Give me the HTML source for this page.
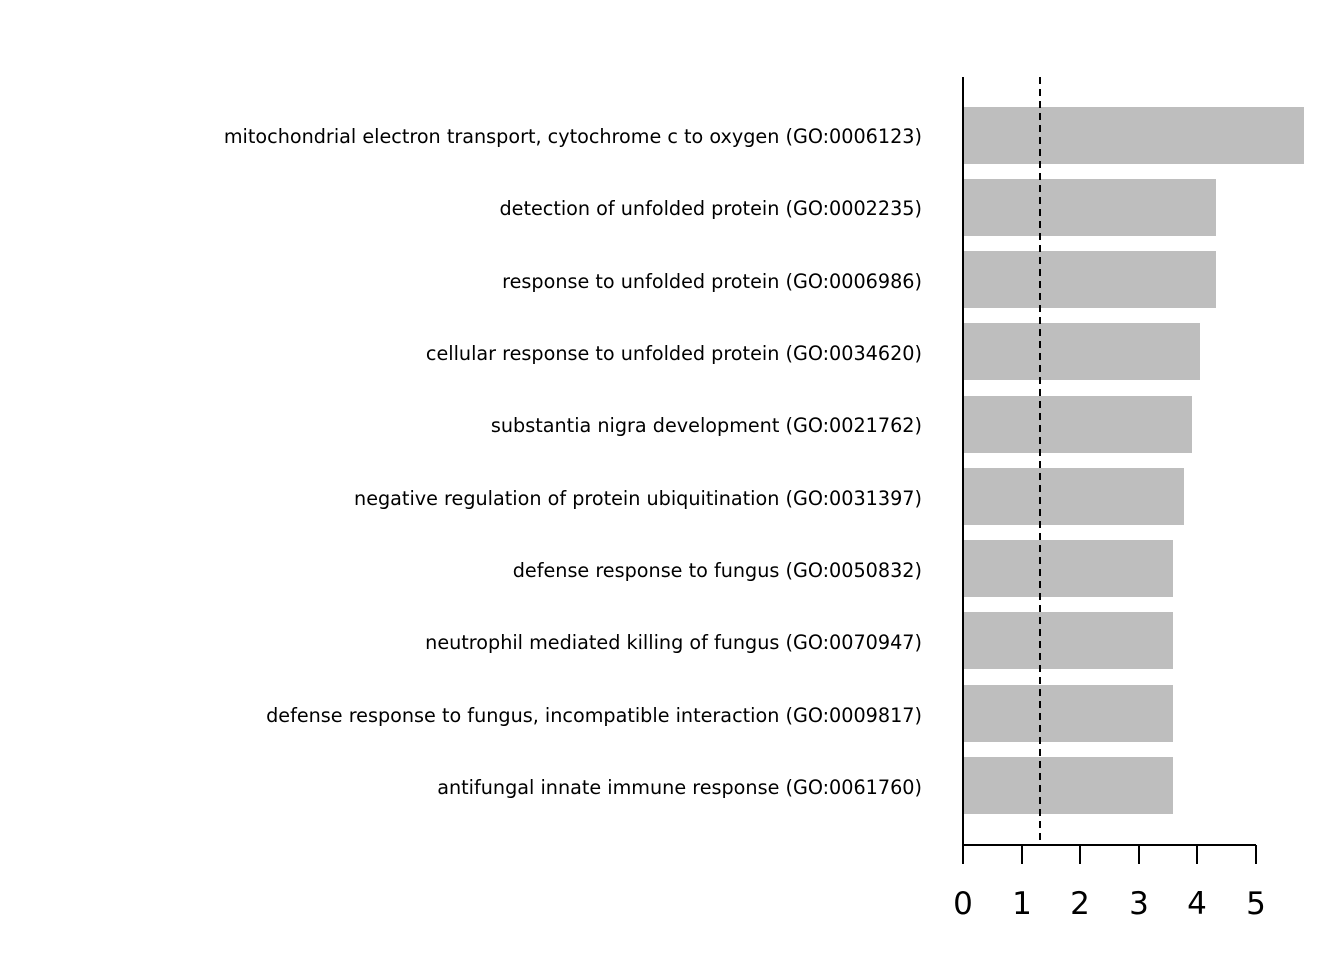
<!DOCTYPE html>
<html><head><meta charset="utf-8"><style>body{margin:0;background:#fff}</style></head>
<body>
<svg width="1344" height="960" xmlns="http://www.w3.org/2000/svg" font-family="DejaVu Sans, Liberation Sans, sans-serif">
<rect width="1344" height="960" fill="#fff"/>
<g fill="#bebebe">
<rect x="963" y="107" width="341" height="57"/>
<rect x="963" y="179" width="253" height="57"/>
<rect x="963" y="251" width="253" height="57"/>
<rect x="963" y="323" width="237" height="57"/>
<rect x="963" y="396" width="229" height="57"/>
<rect x="963" y="468" width="221" height="57"/>
<rect x="963" y="540" width="210" height="57"/>
<rect x="963" y="612" width="210" height="57"/>
<rect x="963" y="685" width="210" height="57"/>
<rect x="963" y="757" width="210" height="57"/>
</g>
<line x1="1040" y1="77" x2="1040" y2="845" stroke="#000" stroke-width="2" stroke-dasharray="7,5"/>
<g stroke="#000" stroke-width="2">
<line x1="963" y1="77" x2="963" y2="845"/>
<line x1="963" y1="845" x2="1256" y2="845"/>
<line x1="963" y1="845" x2="963" y2="864"/>
<line x1="1022" y1="845" x2="1022" y2="864"/>
<line x1="1080" y1="845" x2="1080" y2="864"/>
<line x1="1139" y1="845" x2="1139" y2="864"/>
<line x1="1197" y1="845" x2="1197" y2="864"/>
<line x1="1256" y1="845" x2="1256" y2="864"/>
</g>
<g font-size="31" text-anchor="middle" fill="#000">
<text x="963" y="914">0</text><text x="1022" y="914">1</text><text x="1080" y="914">2</text>
<text x="1139" y="914">3</text><text x="1197" y="914">4</text><text x="1256" y="914">5</text>
</g>
<g font-size="19.2" text-anchor="end" fill="#000">
<text x="922" y="143">mitochondrial electron transport, cytochrome c to oxygen (GO:0006123)</text>
<text x="922" y="215">detection of unfolded protein (GO:0002235)</text>
<text x="922" y="288">response to unfolded protein (GO:0006986)</text>
<text x="922" y="360">cellular response to unfolded protein (GO:0034620)</text>
<text x="922" y="432">substantia nigra development (GO:0021762)</text>
<text x="922" y="505">negative regulation of protein ubiquitination (GO:0031397)</text>
<text x="922" y="577">defense response to fungus (GO:0050832)</text>
<text x="922" y="649">neutrophil mediated killing of fungus (GO:0070947)</text>
<text x="922" y="722">defense response to fungus, incompatible interaction (GO:0009817)</text>
<text x="922" y="794">antifungal innate immune response (GO:0061760)</text>
</g>
</svg>
</body></html>
